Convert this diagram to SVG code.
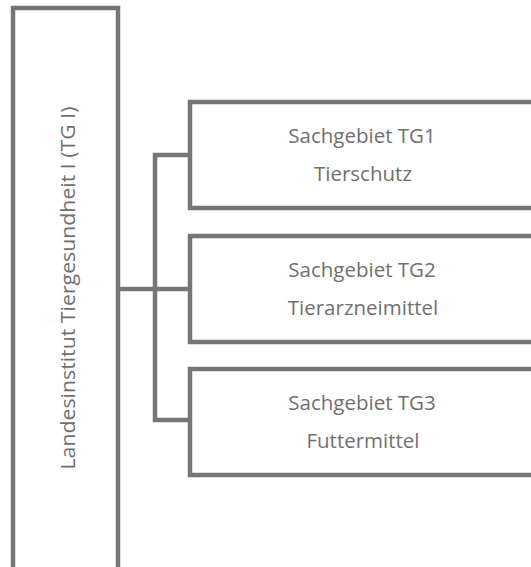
<svg xmlns="http://www.w3.org/2000/svg" width="531" height="567" viewBox="0 0 531 567">
<style>
.box{fill:#ffffff;stroke:#767676;stroke-width:4.5}
.conn{fill:none;stroke:#767676;stroke-width:4.5}
.t{font-family:"Open Sans","Noto Sans","DejaVu Sans",sans-serif;fill:#707070;text-anchor:middle;font-size:20.5px}
</style>
<rect width="531" height="567" fill="#ffffff"/>
<g id="connectors">
<path class="conn" d="M118 289 H190 M190 155 H155 V420 H190"/>
</g>
<g id="node-root">
<rect class="box" x="13" y="8" width="105" height="570"/>
<text class="t" style="font-size:19.5px" transform="translate(75,288) rotate(-90)" textLength="363" lengthAdjust="spacingAndGlyphs">Landesinstitut Tiergesundheit I (TG I)</text>
</g>
<g id="node-tg1">
<rect class="box" x="190" y="102" width="350" height="106"/>
<text class="t" x="362" y="143">Sachgebiet TG1</text>
<text class="t" x="363" y="181">Tierschutz</text>
</g>
<g id="node-tg2">
<rect class="box" x="190" y="236" width="350" height="106"/>
<text class="t" x="362" y="277">Sachgebiet TG2</text>
<text class="t" x="363" y="315">Tierarzneimittel</text>
</g>
<g id="node-tg3">
<rect class="box" x="190" y="369" width="350" height="106"/>
<text class="t" x="362" y="410">Sachgebiet TG3</text>
<text class="t" x="363" y="448">Futtermittel</text>
</g>
</svg>
